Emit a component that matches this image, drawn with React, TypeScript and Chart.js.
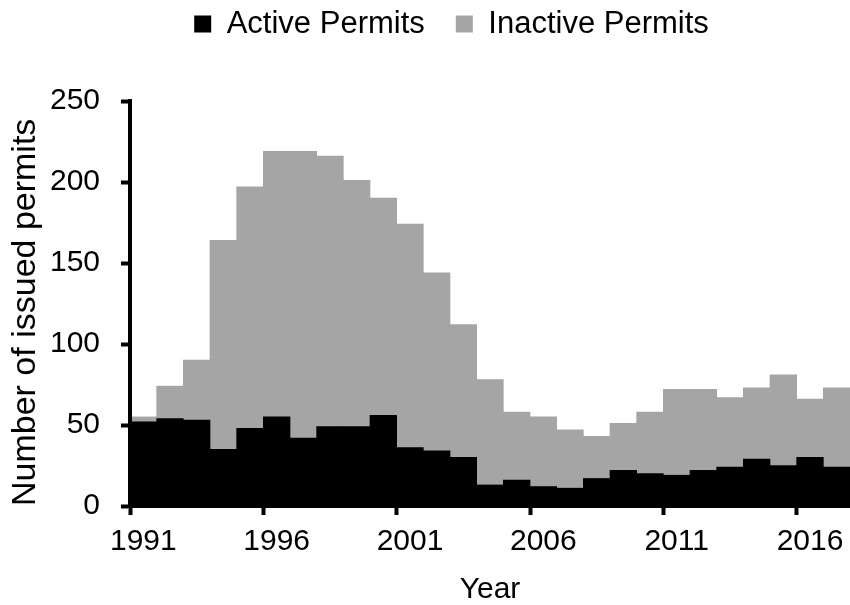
import React, { useEffect, useRef } from "react";
import { Chart, registerables } from "chart.js";

Chart.register(...registerables);

const years = [
  "1991", "1992", "1993", "1994", "1995", "1996", "1997", "1998", "1999", "2000",
  "2001", "2002", "2003", "2004", "2005", "2006", "2007", "2008", "2009", "2010",
  "2011", "2012", "2013", "2014", "2015", "2016", "2017",
];
const activePermits = [
  52, 54, 53, 35, 48, 55, 42, 49, 49, 56,
  36, 34, 30, 13, 16, 12, 11, 17, 22, 20,
  19, 22, 24, 29, 25, 30, 24,
];
const inactivePermits = [
  3, 20, 37, 129, 149, 164, 177, 167, 152, 134,
  138, 110, 82, 65, 42, 43, 36, 26, 29, 38,
  53, 50, 43, 44, 56, 36, 49,
];
const yTickValues = [0, 50, 100, 150, 200, 250];
const labelEvery = 5;

const FONT = "'Liberation Sans', Arial, sans-serif";

const legendShift = {
  id: "legendShift",
  afterLayout(chart: any) {
    const l = chart.legend;
    if (l) {
      l.left += 53;
      l.top -= 51.5;
      l.bottom -= 51.5;
    }
  },
};

export default function App() {
  const ref = useRef<HTMLCanvasElement | null>(null);

  useEffect(() => {
    document.body.style.margin = "0";
    const canvas = ref.current;
    if (!canvas) return;
    const chart = new Chart(canvas, {
      type: "bar",
      data: {
        labels: years,
        datasets: [
          {
            label: "Active Permits",
            data: activePermits,
            backgroundColor: "#000000",
            borderWidth: 0,
            barPercentage: 1,
            categoryPercentage: 1,
          },
          {
            label: "Inactive Permits",
            data: inactivePermits,
            backgroundColor: "#a5a5a5",
            borderWidth: 0,
            barPercentage: 1,
            categoryPercentage: 1,
          },
        ],
      },
      options: {
        animation: false,
        responsive: false,
        maintainAspectRatio: false,
        devicePixelRatio: 1,
        layout: { padding: { top: 29, left: 0, right: 0, bottom: 0 } },
        plugins: {
          legend: {
            position: "top",
            labels: {
              font: { family: FONT, size: 31 },
              color: "#000",
              boxWidth: 17,
              boxHeight: 17,
              padding: 31,
            },
          },
          tooltip: { enabled: false },
        },
        scales: {
          x: {
            type: "category",
            stacked: true,
            offset: true,
            grid: {
              display: true,
              drawOnChartArea: false,
              offset: true,
              tickLength: 9,
              tickWidth: 4,
              tickColor: (ctx: any) =>
                ctx.index % labelEvery === 0 ? "#000" : "rgba(0,0,0,0)",
            },
            border: { display: true, color: "#000", width: 4, z: 1 },
            ticks: {
              autoSkip: false,
              maxRotation: 0,
              minRotation: 0,
              padding: 9,
              color: "#000",
              font: { family: FONT, size: 30 },
              callback: (_v: any, i: number) =>
                i % labelEvery === 0 ? years[i] : "",
            },
            title: {
              display: true,
              text: "Year",
              color: "#000",
              font: { family: FONT, size: 30, lineHeight: 1 },
              padding: 0,
            },
            afterFit: (s: any) => {
              s.height = 99;
            },
          },
          y: {
            stacked: true,
            min: 0,
            max: 250,
            afterBuildTicks: (axis: any) => {
              axis.ticks = yTickValues.map((v) => ({ value: v }));
            },
            grid: {
              drawOnChartArea: false,
              tickLength: 9,
              tickWidth: 4,
              tickColor: "#000",
            },
            border: { display: true, color: "#000", width: 4, z: 1 },
            ticks: {
              padding: 21,
              color: "#000",
              font: { family: FONT, size: 30 },
            },
            title: {
              display: true,
              text: "Number of issued permits",
              align: "start",
              color: "#000",
              font: { family: FONT, size: 34, lineHeight: 1.2 },
              padding: { top: 5, bottom: 0 },
            },
            afterFit: (s: any) => {
              s.width = 130;
            },
          },
        },
      } as any,
      plugins: [legendShift],
    });
    return () => chart.destroy();
  }, []);

  return (
    <canvas
      ref={ref}
      width={850}
      height={605}
      style={{ display: "block", width: 850, height: 605 }}
    />
  );
}
